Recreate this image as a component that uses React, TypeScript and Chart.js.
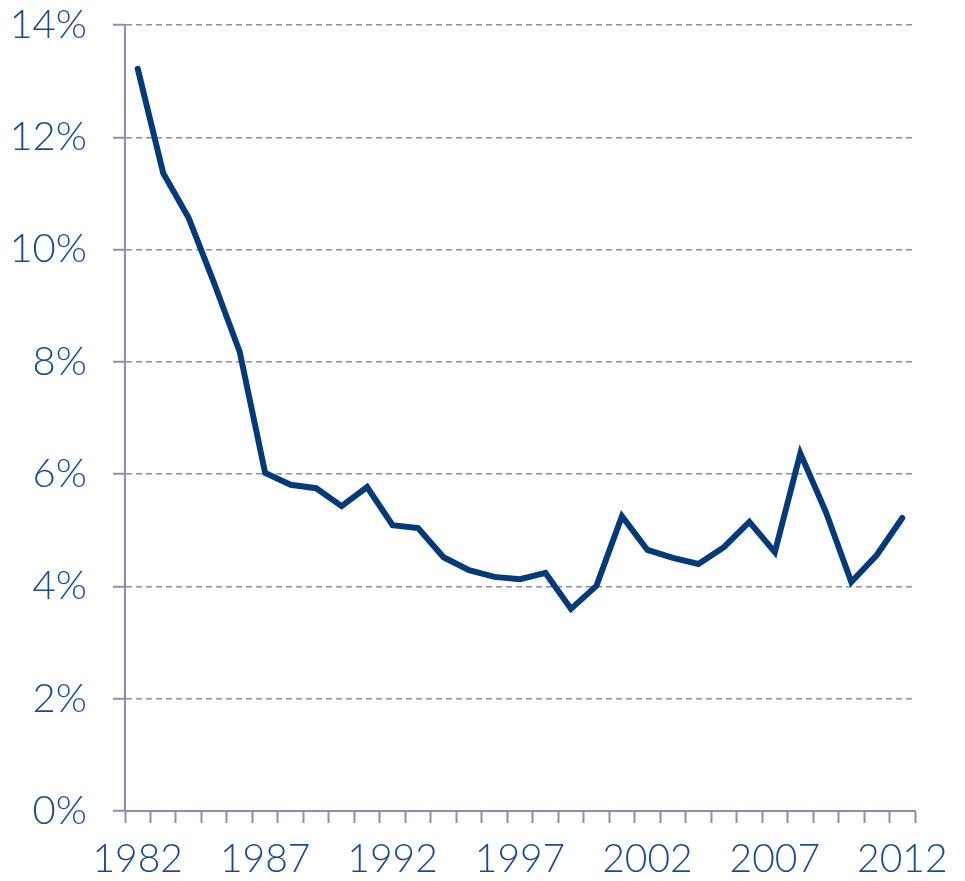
import React, { useEffect, useRef } from "react";
import { Chart, registerables } from "chart.js";

Chart.register(...registerables);

const years: string[] = [
  "1982", "1983", "1984", "1985", "1986", "1987", "1988", "1989", "1990", "1991",
  "1992", "1993", "1994", "1995", "1996", "1997", "1998", "1999", "2000", "2001",
  "2002", "2003", "2004", "2005", "2006", "2007", "2008", "2009", "2010", "2011", "2012",
];

const rates: number[] = [
  13.22, 11.36, 10.56, 9.4, 8.18, 6.02, 5.81, 5.75, 5.43, 5.77,
  5.09, 5.04, 4.52, 4.29, 4.17, 4.13, 4.24, 3.6, 4.01, 5.25,
  4.65, 4.51, 4.4, 4.7, 5.15, 4.61, 6.37, 5.33, 4.08, 4.56, 5.22,
];

const yTicks: number[] = [0, 2, 4, 6, 8, 10, 12, 14];

const LINE = "#053a78";
const GRID = "#8a8fa8";
const TEXT = "#1d4b8a";
const FONT = "Lato, 'Open Sans', sans-serif";

export default function App() {
  const ref = useRef<HTMLCanvasElement | null>(null);

  useEffect(() => {
    if (!ref.current) return;
    const chart = new Chart(ref.current, {
      type: "line",
      data: {
        labels: years,
        datasets: [
          {
            data: rates,
            borderColor: LINE,
            backgroundColor: LINE,
            borderWidth: 6,
            pointRadius: 0,
            tension: 0,
            borderCapStyle: "round",
            borderJoinStyle: "miter",
          },
        ],
      },
      options: {
        animation: false,
        responsive: false,
        maintainAspectRatio: false,
        layout: { padding: { top: 25, right: 50, left: 0, bottom: 0 } },
        plugins: {
          legend: { display: false },
          tooltip: { enabled: false },
          title: { display: false },
        },
        scales: {
          x: {
            type: "category",
            offset: true,
            grid: {
              offset: true,
              drawOnChartArea: false,
              drawTicks: true,
              tickLength: 12,
              tickWidth: 2,
              tickColor: GRID,
            },
            border: { display: true, color: GRID, width: 2 },
            ticks: {
              autoSkip: false,
              maxRotation: 0,
              minRotation: 0,
              padding: 13,
              color: TEXT,
              font: { family: FONT, size: 39, weight: "300" },
              callback: (_v: any, i: number) => (i % 5 === 0 ? years[i] : ""),
            },
            afterFit: (s: any) => {
              s.height = 70;
            },
          },
          y: {
            min: 0,
            max: 14,
            afterBuildTicks: (s: any) => {
              s.ticks = yTicks.map((v) => ({ value: v }));
            },
            grid: {
              drawOnChartArea: true,
              drawTicks: true,
              tickLength: 12,
              tickWidth: 2,
              tickColor: GRID,
              tickBorderDash: [],
              color: GRID,
              lineWidth: 1.5,
            },
            border: { display: true, color: GRID, width: 2, dash: [6, 4] },
            ticks: {
              padding: 26,
              color: TEXT,
              font: { family: FONT, size: 40, weight: "300" },
              callback: (v: any) => `${v}%`,
            },
            afterFit: (s: any) => {
              s.width = 125;
              s.paddingTop = 0;
              s.paddingBottom = 0;
            },
          },
        },
      },
    });
    return () => chart.destroy();
  }, []);

  return (
    <div style={{ position: "fixed", left: 0, top: 0, width: 965, height: 881, background: "#fff" }}>
      <canvas ref={ref} width={965} height={881} style={{ width: 965, height: 881, display: "block" }} />
    </div>
  );
}
